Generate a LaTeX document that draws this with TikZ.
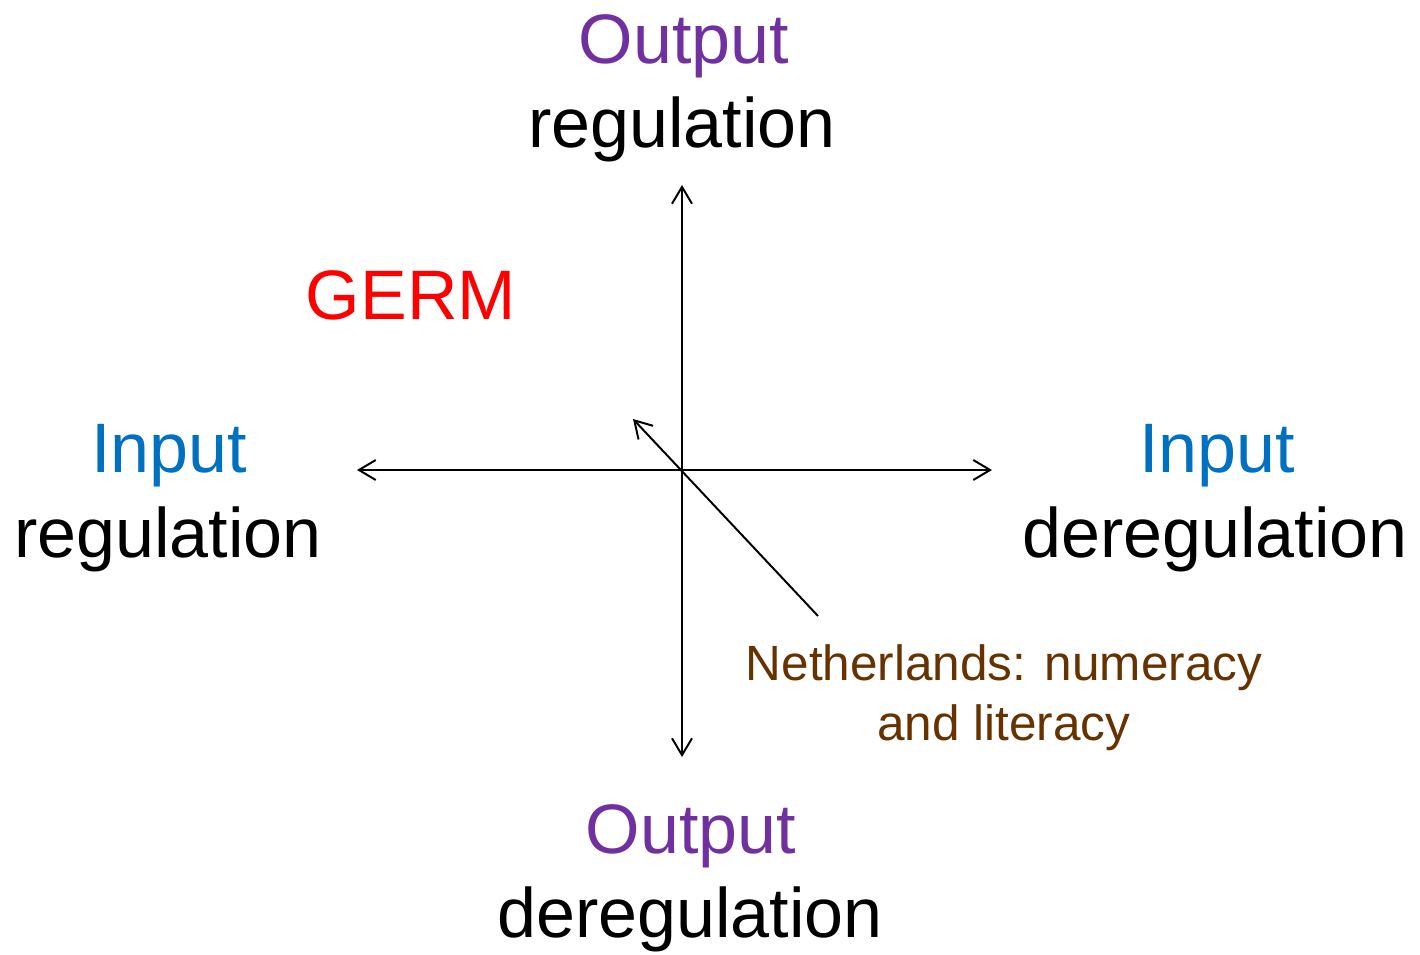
\documentclass[tikz,border=0pt]{standalone}
\usepackage{fontspec}
\setmainfont{Liberation Sans}
\usetikzlibrary{arrows.meta}
\definecolor{outpurple}{HTML}{7030A0}
\definecolor{inblue}{HTML}{0070C0}
\definecolor{nlbrown}{HTML}{663300}

\begin{document}
\begin{tikzpicture}[x=0.025cm, y=-0.025cm]
\tikzset{
  big/.style={anchor=base, inner sep=0pt, font=\fontsize{49.8pt}{60pt}\selectfont},
  small/.style={anchor=base, inner sep=0pt, font=\fontsize{35.2pt}{42pt}\selectfont, text=nlbrown},
  ax/.style={line width=1.4pt, {Straight Barb[length=0.42cm, width=0.5cm]}-{Straight Barb[length=0.42cm, width=0.5cm]}},
  diag/.style={line width=1.4pt, -{Straight Barb[length=0.42cm, width=0.5cm]}}
}
\useasboundingbox (0,0) rectangle (1420,954);

% --- axes ---
\coordinate (o) at (682,470);
\coordinate (up) at (682,185);
\coordinate (down) at (682,757);
\coordinate (left) at (357,470);
\coordinate (right) at (992,470);
\draw[ax] (down) -- (up);
\draw[ax] (left) -- (right);

% --- end labels ---
\node[big, text=outpurple] (outT) at (684,63) {Output};
\node[big] (regT) at (682,147) {regulation};
\node[big, text=outpurple] (outB) at (691,853) {Output};
\node[big] (deregB) at (690,937) {deregulation};
\node[big, text=inblue] (inL) at (169,472) {Input};
\node[big] (regL) at (168,557) {regulation};
\node[big, text=inblue] (inR) at (1217,472) {Input};
\node[big] (deregR) at (1215,557) {deregulation};
\node[big, text=red] (germ) at (411,319) {GERM};

% --- Netherlands ---
\node[small] (nl1) at (1004,680) {Netherlands: numeracy};
\node[small] (nl2) at (1004,740) {and literacy};
\coordinate (nltip) at (633,419);
\coordinate (nlfoot) at (818,616);
\draw[diag] (nlfoot) -- (nltip);
\end{tikzpicture}
\end{document}
